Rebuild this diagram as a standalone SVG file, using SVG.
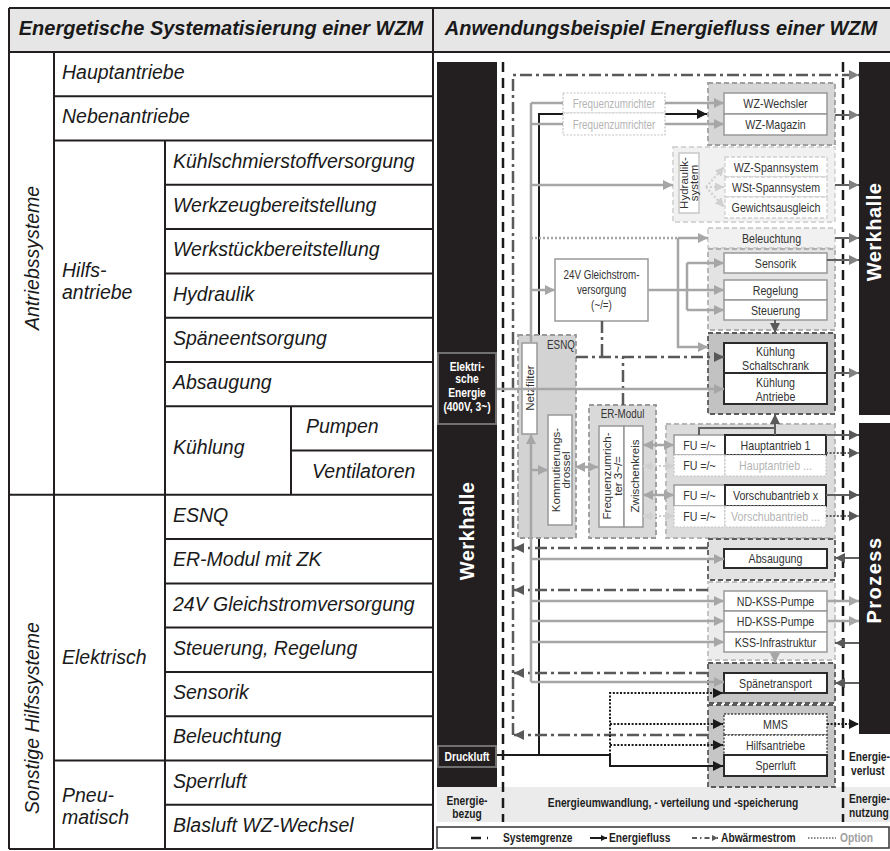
<svg xmlns="http://www.w3.org/2000/svg" width="890" height="851" viewBox="0 0 890 851">
<style>
.tb{stroke:#231f20;stroke-width:2;fill:none}
.it{font-family:"Liberation Sans",Arial,sans-serif;font-style:italic;font-size:19.5px;fill:#1a1a1a}
.hd{font-family:"Liberation Sans",Arial,sans-serif;font-style:italic;font-weight:bold;font-size:20px;fill:#1a1a1a;text-anchor:middle}
.n{font-family:"Liberation Sans",Arial,sans-serif;font-size:13px;fill:#333;text-anchor:middle}
.ns{font-size:12px}
.lt{fill:#b4b4b4}
.v{font-family:"Liberation Sans",Arial,sans-serif;font-size:11.5px;fill:#333;text-anchor:middle}
.bw{font-family:"Liberation Sans",Arial,sans-serif;font-weight:bold;font-size:12.5px;fill:#fff;text-anchor:middle}
.bd{font-family:"Liberation Sans",Arial,sans-serif;font-weight:bold;font-size:12.5px;fill:#1e1e1e}
.big{font-family:"Liberation Sans",Arial,sans-serif;font-weight:bold;font-size:20px;fill:#fff;text-anchor:middle}
.bar{fill:#231f20}
.box{fill:#fff;stroke:#999;stroke-width:1.5}
.boxd{fill:#fff;stroke:#2b2b2b;stroke-width:2}
.boxo{fill:#fff;stroke:#444;stroke-width:1.4;stroke-dasharray:2 1.5}
.boxol{fill:#fff;stroke:#c4c4c4;stroke-width:1.2;stroke-dasharray:2 1.5}
.boxh{fill:#fff;stroke:#d0d0d0;stroke-width:1.3;stroke-dasharray:4 2}
.grp{stroke-width:1.8;stroke-dasharray:5 3}
.g{fill:none;stroke:#a6a6a6;stroke-width:2.5}
.gd{fill:none;stroke:#a6a6a6;stroke-width:2.5;stroke-dasharray:2 2}
.gl{fill:none;stroke:#cfcfcf;stroke-width:2.2;stroke-dasharray:2 2}
.k{fill:none;stroke:#1a1a1a;stroke-width:2}
.ko{fill:none;stroke:#1a1a1a;stroke-width:2;stroke-dasharray:2 1.6}
.dd{fill:none;stroke:#595959;stroke-width:2.5;stroke-dasharray:12 4 3 4}
.sg{fill:none;stroke:#1a1a1a;stroke-width:2.5;stroke-dasharray:10 6}
.d{fill:none;stroke:#606060;stroke-width:2}
.do{fill:none;stroke:#606060;stroke-width:2;stroke-dasharray:2 1.6}
</style>
<defs>
<marker id="mG" viewBox="0 0 10 10" refX="10" refY="5" markerUnits="userSpaceOnUse" markerWidth="10" markerHeight="10" orient="auto-start-reverse"><path d="M0,0 L10,5 L0,10 z" fill="#a6a6a6"/></marker>
<marker id="mL" viewBox="0 0 10 10" refX="10" refY="5" markerUnits="userSpaceOnUse" markerWidth="9" markerHeight="9" orient="auto-start-reverse"><path d="M0,0 L10,5 L0,10 z" fill="#d0d0d0"/></marker>
<marker id="mK" viewBox="0 0 10 10" refX="10" refY="5" markerUnits="userSpaceOnUse" markerWidth="10" markerHeight="10" orient="auto-start-reverse"><path d="M0,0 L10,5 L0,10 z" fill="#1a1a1a"/></marker>
<marker id="mD" viewBox="0 0 10 10" refX="10" refY="5" markerUnits="userSpaceOnUse" markerWidth="10" markerHeight="11" orient="auto-start-reverse"><path d="M0,0 L10,5 L0,10 z" fill="#595959"/></marker>
<marker id="mM" viewBox="0 0 10 10" refX="10" refY="5" markerUnits="userSpaceOnUse" markerWidth="10" markerHeight="12" orient="auto-start-reverse"><path d="M0,0 L10,5 L0,10 z" fill="#808080"/></marker>
<marker id="mS" viewBox="0 0 10 10" refX="10" refY="5" markerUnits="userSpaceOnUse" markerWidth="7" markerHeight="6" orient="auto-start-reverse"><path d="M0,0 L10,5 L0,10 z" fill="#1a1a1a"/></marker>
<marker id="mSd" viewBox="0 0 10 10" refX="10" refY="5" markerUnits="userSpaceOnUse" markerWidth="7" markerHeight="6" orient="auto-start-reverse"><path d="M0,0 L10,5 L0,10 z" fill="#595959"/></marker>
</defs>
<rect width="890" height="851" fill="#fff"/>

<g id="header">
<rect x="9" y="8" width="881" height="44" fill="#e6e6e6"/>
<line x1="9" y1="8" x2="890" y2="8" class="tb"/>
<line x1="9" y1="52" x2="890" y2="52" class="tb" stroke-width="2.5"/>
<text x="221" y="35" class="hd">Energetische Systematisierung einer WZM</text>
<text x="661" y="35" class="hd">Anwendungsbeispiel Energiefluss einer WZM</text>
</g>

<g id="table">
<line x1="9" y1="8" x2="9" y2="849" class="tb"/>
<line x1="433" y1="8" x2="433" y2="849" class="tb"/>
<line x1="54" y1="52" x2="54" y2="849" class="tb"/>
<line x1="165" y1="140.6" x2="165" y2="849" class="tb"/>
<line x1="291" y1="406.2" x2="291" y2="494.8" class="tb"/>
<line x1="54" y1="96.3" x2="433" y2="96.3" class="tb"/>
<line x1="54" y1="140.6" x2="433" y2="140.6" class="tb"/>
<line x1="165" y1="184.8" x2="433" y2="184.8" class="tb"/>
<line x1="165" y1="229.1" x2="433" y2="229.1" class="tb"/>
<line x1="165" y1="273.4" x2="433" y2="273.4" class="tb"/>
<line x1="165" y1="317.7" x2="433" y2="317.7" class="tb"/>
<line x1="165" y1="362" x2="433" y2="362" class="tb"/>
<line x1="165" y1="406.2" x2="433" y2="406.2" class="tb"/>
<line x1="291" y1="450.5" x2="433" y2="450.5" class="tb"/>
<line x1="9" y1="494.8" x2="433" y2="494.8" class="tb"/>
<line x1="165" y1="539.1" x2="433" y2="539.1" class="tb"/>
<line x1="165" y1="583.4" x2="433" y2="583.4" class="tb"/>
<line x1="165" y1="627.6" x2="433" y2="627.6" class="tb"/>
<line x1="165" y1="671.9" x2="433" y2="671.9" class="tb"/>
<line x1="165" y1="716.2" x2="433" y2="716.2" class="tb"/>
<line x1="54" y1="760.5" x2="433" y2="760.5" class="tb"/>
<line x1="165" y1="804.8" x2="433" y2="804.8" class="tb"/>
<line x1="9" y1="849" x2="433" y2="849" class="tb"/>
<text class="it" transform="translate(39,258) rotate(-90)" text-anchor="middle">Antriebssysteme</text>
<text class="it" transform="translate(39,718) rotate(-90)" text-anchor="middle">Sonstige Hilfssysteme</text>
<text class="it" x="62" y="79">Hauptantriebe</text>
<text class="it" x="62" y="123.4">Nebenantriebe</text>
<text class="it" x="62" y="277">Hilfs-</text>
<text class="it" x="62" y="299">antriebe</text>
<text class="it" x="173" y="167.7">Kühlschmierstoffversorgung</text>
<text class="it" x="173" y="212">Werkzeugbereitstellung</text>
<text class="it" x="173" y="256.3">Werkstückbereitstellung</text>
<text class="it" x="173" y="300.5">Hydraulik</text>
<text class="it" x="173" y="344.8">Späneentsorgung</text>
<text class="it" x="173" y="389.1">Absaugung</text>
<text class="it" x="173" y="454">Kühlung</text>
<text class="it" x="306" y="433.4">Pumpen</text>
<text class="it" x="312" y="477.7">Ventilatoren</text>
<text class="it" x="62" y="664">Elektrisch</text>
<text class="it" x="173" y="522">ESNQ</text>
<text class="it" x="173" y="566.2">ER-Modul mit ZK</text>
<text class="it" x="173" y="610.5">24V Gleichstromversorgung</text>
<text class="it" x="173" y="654.8">Steuerung, Regelung</text>
<text class="it" x="173" y="699.1">Sensorik</text>
<text class="it" x="173" y="743.4">Beleuchtung</text>
<text class="it" x="62" y="802">Pneu-</text>
<text class="it" x="62" y="824">matisch</text>
<text class="it" x="173" y="787.6">Sperrluft</text>
<text class="it" x="173" y="831.9">Blasluft WZ-Wechsel</text>
</g>

<g id="bands">
<rect x="437" y="787" width="453" height="35" fill="#ebebeb"/>
<text class="bd" text-anchor="middle" transform="matrix(0.82 0 0 1 467 805)">Energie-</text>
<text class="bd" text-anchor="middle" transform="matrix(0.82 0 0 1 467 818)">bezug</text>
<text class="bd" text-anchor="middle" font-size="12px" transform="matrix(0.82 0 0 1 673 807)">Energieumwandlung, - verteilung und -speicherung</text>
<text class="bd" transform="matrix(0.82 0 0 1 849 761)">Energie-</text>
<text class="bd" transform="matrix(0.82 0 0 1 851 775)">verlust</text>
<text class="bd" transform="matrix(0.82 0 0 1 849 803)">Energie-</text>
<text class="bd" transform="matrix(0.82 0 0 1 849 817)">nutzung</text>
</g>

<g id="werkhalle-links">
<rect class="bar" x="437" y="62" width="60" height="725"/>
<text class="big" transform="translate(474,531) rotate(-90)" letter-spacing="0.5">Werkhalle</text>
</g>
<g id="elektrische-energie">
<rect x="438" y="353" width="58" height="71" fill="#231f20" stroke="#707070" stroke-width="2"/>
<text class="bw" transform="matrix(0.82 0 0 1 467 370.5)">Elektri-</text>
<text class="bw" transform="matrix(0.82 0 0 1 467 382.5)">sche</text>
<text class="bw" transform="matrix(0.82 0 0 1 467 396.5)">Energie</text>
<text class="bw" transform="matrix(0.82 0 0 1 467 410.5)">(400V, 3~)</text>
</g>
<g id="druckluft">
<rect x="438" y="746" width="58" height="21" fill="#231f20" stroke="#707070" stroke-width="2"/>
<text class="bw" transform="matrix(0.82 0 0 1 467 761)">Druckluft</text>
</g>
<g id="werkhalle-rechts">
<rect class="bar" x="859" y="62" width="31" height="353"/>
<text class="big" transform="translate(881,232) rotate(-90)" letter-spacing="0.5">Werkhalle</text>
</g>
<g id="prozess">
<rect class="bar" x="859" y="423" width="31" height="311"/>
<text class="big" transform="translate(881,580) rotate(-90)" letter-spacing="1.5">Prozess</text>
</g>

<g id="connectors-back">
<path class="k" d="M539,755 V538"/>
<path class="k" d="M539,335 V114 H707" marker-end="url(#mK)"/>
</g>

<g id="wz-gruppe">
<rect class="grp" x="708" y="83" width="127" height="62" fill="#d6d6d6" stroke="#a0a0a0"/>
<rect class="box" x="724" y="93" width="103" height="21"/>
<rect class="box" x="724" y="114" width="103" height="21"/>
<text class="n" transform="matrix(0.82 0 0 1 775.5 108)">WZ-Wechsler</text>
<text class="n" transform="matrix(0.82 0 0 1 775.5 129)">WZ-Magazin</text>
</g>
<g id="frequenzumrichter-opt">
<rect class="boxol" x="563" y="93" width="102" height="20"/>
<rect class="boxol" x="563" y="113" width="102" height="22"/>
<text class="n ns lt" transform="matrix(0.82 0 0 1 614 107.5)">Frequenzumrichter</text>
<text class="n ns lt" transform="matrix(0.82 0 0 1 614 128.5)">Frequenzumrichter</text>
</g>
<g id="hydraulik">
<rect class="grp" x="673" y="147" width="162" height="75" fill="#f1f1f1" stroke="#d6d6d6"/>
<rect x="679" y="153" width="20" height="60" fill="#fff" stroke="#c8c8c8" stroke-width="1.5"/>
<text class="v" font-size="10.5px" transform="translate(688,183) rotate(-90)">Hydraulik-</text>
<text class="v" font-size="10.5px" transform="translate(697.5,183) rotate(-90)">system</text>
<rect class="boxh" x="725" y="157" width="102" height="20"/>
<rect class="boxh" x="725" y="177" width="102" height="20"/>
<rect class="boxh" x="725" y="197" width="102" height="21"/>
<text class="n" transform="matrix(0.82 0 0 1 776 171.5)">WZ-Spannsystem</text>
<text class="n" transform="matrix(0.82 0 0 1 776 191.5)">WSt-Spannsystem</text>
<text class="n" transform="matrix(0.82 0 0 1 776 212)">Gewichtsausgleich</text>
</g>
<g id="beleuchtung">
<rect class="grp" x="708" y="228" width="127" height="20" fill="#f1f1f1" stroke="#d0d0d0"/>
<text class="n" transform="matrix(0.82 0 0 1 771.5 242.5)">Beleuchtung</text>
</g>
<g id="sensorik-gruppe">
<rect class="grp" x="708" y="249" width="127" height="81" fill="#e3e3e3" stroke="#b0b0b0"/>
<rect class="box" x="724" y="253" width="103" height="20" stroke="#b0b0b0"/>
<rect class="box" x="724" y="280" width="103" height="20" stroke="#b0b0b0"/>
<rect class="box" x="724" y="300" width="103" height="20" stroke="#b0b0b0"/>
<text class="n" transform="matrix(0.82 0 0 1 775.5 267.5)">Sensorik</text>
<text class="n" transform="matrix(0.82 0 0 1 775.5 294.5)">Regelung</text>
<text class="n" transform="matrix(0.82 0 0 1 775.5 314.5)">Steuerung</text>
</g>
<g id="gleichstrom-24v">
<rect class="box" x="555" y="259" width="93" height="62" stroke="#a6a6a6"/>
<text class="n ns" transform="matrix(0.82 0 0 1 601.5 279)">24V Gleichstrom-</text>
<text class="n ns" transform="matrix(0.82 0 0 1 601.5 294)">versorgung</text>
<text class="n ns" transform="matrix(0.82 0 0 1 601.5 308.5)">(~/=)</text>
</g>
<g id="kuehlung-gruppe">
<rect class="grp" x="708" y="333" width="127" height="81" fill="#c2c2c2" stroke="#5a5a5a"/>
<rect class="boxd" x="724" y="343" width="103" height="30" stroke-width="1.6"/>
<rect class="boxd" x="724" y="373" width="103" height="31" stroke-width="1.6"/>
<text class="n" transform="matrix(0.82 0 0 1 775.5 356)">Kühlung</text>
<text class="n" transform="matrix(0.82 0 0 1 775.5 370)">Schaltschrank</text>
<text class="n" transform="matrix(0.82 0 0 1 775.5 387)">Kühlung</text>
<text class="n" transform="matrix(0.82 0 0 1 775.5 401)">Antriebe</text>
</g>
<g id="esnq">
<rect class="grp" x="518" y="335" width="58" height="203" fill="#d3d3d3" stroke="#9a9a9a"/>
<text class="n ns" transform="matrix(0.82 0 0 1 561 349)">ESNQ</text>
<rect class="box" x="522" y="343" width="15" height="91" stroke="#a6a6a6"/>
<text class="v" font-size="12px" transform="translate(534,388) rotate(-90)">Netzfilter</text>
<rect class="box" x="548" y="415" width="24" height="110" stroke="#a6a6a6"/>
<text class="v" transform="translate(559.5,470) rotate(-90)">Kommutierungs-</text>
<text class="v" transform="translate(570,470) rotate(-90)">drossel</text>
</g>
<g id="er-modul">
<rect class="grp" x="589" y="405" width="67" height="133" fill="#d9d9d9" stroke="#9a9a9a"/>
<text class="n ns" transform="matrix(0.82 0 0 1 622.5 417.5)">ER-Modul</text>
<rect class="box" x="599" y="426" width="25" height="101" stroke="#a6a6a6"/>
<rect class="box" x="624" y="426" width="19" height="101" stroke="#a6a6a6"/>
<text class="v" transform="translate(611,476) rotate(-90)">Frequenzumrich-</text>
<text class="v" transform="translate(622,476) rotate(-90)">ter 3~/=</text>
<text class="v" font-size="12px" transform="translate(638.5,476) rotate(-90)">Zwischenkreis</text>
</g>
<g id="fu-gruppe">
<rect class="grp" x="666" y="424" width="169" height="114" fill="#dcdcdc" stroke="#b5b5b5"/>
<rect class="box" x="674" y="435" width="51" height="20" stroke="#a6a6a6"/>
<rect class="boxd" x="725" y="435" width="101" height="20"/>
<rect class="boxol" x="674" y="455" width="51" height="21"/>
<rect class="boxol" x="725" y="455" width="101" height="21"/>
<rect class="box" x="674" y="485" width="51" height="21" stroke="#a6a6a6"/>
<rect class="boxd" x="725" y="485" width="101" height="21"/>
<rect class="boxol" x="674" y="506" width="51" height="21"/>
<rect class="boxol" x="725" y="506" width="101" height="21"/>
<text class="n" transform="matrix(0.82 0 0 1 699.5 449.5)">FU =/~</text>
<text class="n" transform="matrix(0.82 0 0 1 775.5 449.5)">Hauptantrieb 1</text>
<text class="n" transform="matrix(0.82 0 0 1 699.5 470)">FU =/~</text>
<text class="n lt" transform="matrix(0.82 0 0 1 775.5 470)">Hauptantrieb ...</text>
<text class="n" transform="matrix(0.82 0 0 1 699.5 500)">FU =/~</text>
<text class="n" transform="matrix(0.82 0 0 1 775.5 500)">Vorschubantrieb x</text>
<text class="n" transform="matrix(0.82 0 0 1 699.5 521)">FU =/~</text>
<text class="n lt" transform="matrix(0.82 0 0 1 775.5 521)">Vorschubantrieb ...</text>
</g>
<g id="absaugung">
<rect class="grp" x="708" y="539" width="127" height="41" fill="#e2e2e2" stroke="#5a5a5a"/>
<rect class="boxd" x="724" y="549" width="103" height="19"/>
<text class="n" transform="matrix(0.82 0 0 1 775.5 563)">Absaugung</text>
</g>
<g id="kss-gruppe">
<rect class="grp" x="708" y="582" width="127" height="78" fill="#ececec" stroke="#c0c0c0"/>
<rect class="box" x="724" y="591" width="103" height="20" stroke="#b0b0b0"/>
<rect class="box" x="724" y="611" width="103" height="21" stroke="#b0b0b0"/>
<rect class="box" x="724" y="632" width="103" height="20" stroke="#b0b0b0"/>
<text class="n" transform="matrix(0.82 0 0 1 775.5 605.5)">ND-KSS-Pumpe</text>
<text class="n" transform="matrix(0.82 0 0 1 775.5 626)">HD-KSS-Pumpe</text>
<text class="n" transform="matrix(0.82 0 0 1 775.5 646.5)">KSS-Infrastruktur</text>
</g>
<g id="spaenetransport">
<rect class="grp" x="708" y="663" width="127" height="40" fill="#c6c6c6" stroke="#5a5a5a"/>
<rect class="boxd" x="724" y="673" width="103" height="20"/>
<text class="n" transform="matrix(0.82 0 0 1 775.5 687.5)">Spänetransport</text>
</g>
<g id="pneumatik-gruppe">
<rect class="grp" x="708" y="705" width="127" height="82" fill="#c6c6c6" stroke="#5a5a5a"/>
<rect class="boxo" x="724" y="714" width="103" height="21"/>
<rect class="boxo" x="724" y="735" width="103" height="20"/>
<rect class="boxd" x="724" y="755" width="103" height="21"/>
<text class="n" transform="matrix(0.82 0 0 1 775.5 729)">MMS</text>
<text class="n" transform="matrix(0.82 0 0 1 775.5 749.5)">Hilfsantriebe</text>
<text class="n" transform="matrix(0.82 0 0 1 775.5 770)">Sperrluft</text>
</g>

<g id="connectors">
<path class="sg" d="M503,62 V822"/>
<path class="sg" d="M843,62 V822"/>
<path class="dd" d="M513,735 V75 H859" marker-end="url(#mM)"/>
<path class="dd" d="M708,548 H514" marker-end="url(#mD)"/>
<path class="dd" d="M708,590 H514" marker-end="url(#mD)"/>
<path class="dd" d="M708,673 H514" marker-end="url(#mD)"/>
<path class="dd" d="M708,735 H514" marker-end="url(#mD)"/>
<path class="dd" d="M602,321 V357"/>
<path class="dd" d="M623,405 V357"/>
<path class="dd" d="M576,357 H724" marker-end="url(#mD)"/>
<path class="d" d="M835,115 H859" marker-end="url(#mM)"/>
<path class="d" d="M835,185 H859" marker-end="url(#mM)"/>
<path class="d" d="M835,238 H859" marker-end="url(#mM)"/>
<path class="d" d="M827,260 H859" marker-end="url(#mM)"/>
<path class="d" d="M835,373 H859" marker-end="url(#mM)"/>
<path class="d" d="M775,320 V333" marker-end="url(#mD)"/>
<path class="d" d="M699,435 V428 H775"/>
<path class="d" d="M775,435 V414" marker-end="url(#mD)"/>
<path class="d" d="M826,435 H859" marker-end="url(#mD)"/>
<path class="do" d="M826,453 H859" marker-end="url(#mD)"/>
<path class="d" d="M826,495 H859" marker-end="url(#mD)"/>
<path class="do" d="M826,516 H859" marker-end="url(#mD)"/>
<path class="d" d="M859,558 H835" marker-end="url(#mD)"/>
<path class="d" d="M859,643 H835" marker-end="url(#mD)"/>
<path class="d" d="M859,683 H835" marker-end="url(#mD)"/>
<path class="g" d="M827,601 H859" marker-end="url(#mG)"/>
<path class="g" d="M827,621 H859" marker-end="url(#mG)"/>
<path class="g" d="M531,103 V343"/>
<path class="g" d="M531,682 V434" marker-end="url(#mG)"/>
<path class="g" d="M531,103 H563"/>
<path class="g" d="M531,124 H563"/>
<path class="g" d="M665,103 H724" marker-end="url(#mG)"/>
<path class="g" d="M665,124 H724" marker-end="url(#mG)"/>
<path class="g" d="M531,185 H673" marker-end="url(#mG)"/>
<path class="gd" d="M531,238 H678"/>
<path class="g" d="M678,238 H708" marker-end="url(#mG)"/>
<path class="g" d="M678,238 V347 H708" marker-end="url(#mG)"/>
<path class="g" d="M531,290 H555" marker-end="url(#mG)"/>
<path class="g" d="M648,290 H724" marker-end="url(#mG)"/>
<path class="g" d="M687,263 V310"/>
<path class="g" d="M687,263 H724" marker-end="url(#mG)"/>
<path class="g" d="M687,310 H724" marker-end="url(#mG)"/>
<path class="g" d="M497,389 H724" marker-end="url(#mG)"/>
<path class="g" d="M531,470 H548" marker-end="url(#mG)"/>
<path class="g" d="M575,467 H598" marker-start="url(#mG)" marker-end="url(#mG)"/>
<path class="g" d="M643,445 H674" marker-start="url(#mG)" marker-end="url(#mG)"/>
<path class="gl" d="M643,466 H674" marker-start="url(#mL)" marker-end="url(#mL)"/>
<path class="g" d="M643,495 H674" marker-start="url(#mG)" marker-end="url(#mG)"/>
<path class="gl" d="M643,516 H674" marker-start="url(#mL)" marker-end="url(#mL)"/>
<path class="g" d="M531,559 H724" marker-end="url(#mG)"/>
<path class="g" d="M531,601 H724" marker-end="url(#mG)"/>
<path class="g" d="M531,621 H724" marker-end="url(#mG)"/>
<path class="g" d="M531,642 H724" marker-end="url(#mG)"/>
<path class="g" d="M531,682 H724" marker-end="url(#mG)"/>
<path class="g" d="M775,652 V663" marker-end="url(#mG)"/>
<path class="gl" d="M706,187 L724,167" marker-end="url(#mL)"/>
<path class="gl" d="M706,187 H724" marker-end="url(#mL)"/>
<path class="gl" d="M706,187 L724,207" marker-end="url(#mL)"/>
<path class="k" d="M497,755 H610 V766 H723" marker-end="url(#mK)"/>
<path class="ko" d="M610,755 V693 H723" marker-end="url(#mK)"/>
<path class="ko" d="M610,724 H723" marker-end="url(#mK)"/>
<path class="ko" d="M610,745 H723" marker-end="url(#mK)"/>
<path class="ko" d="M827,724 H859" marker-end="url(#mK)"/>
</g>

<g id="legende">
<rect x="437" y="827" width="452" height="21" fill="#fff" stroke="#333" stroke-width="1.5"/>
<path class="sg" d="M471,838 H488" stroke-dasharray="6 4"/>
<text class="bd" transform="matrix(0.82 0 0 1 503 842)">Systemgrenze</text>
<path class="k" d="M590,838 H607" marker-end="url(#mS)"/>
<text class="bd" transform="matrix(0.82 0 0 1 609 842)">Energiefluss</text>
<path fill="none" stroke="#595959" stroke-width="1.8" stroke-dasharray="5 3 1.5 3" d="M692,838 H718" marker-end="url(#mSd)"/>
<text class="bd" transform="matrix(0.82 0 0 1 721 842)">Abwärmestrom</text>
<path fill="none" stroke="#666" stroke-width="1.5" stroke-dasharray="1.5 1.5" d="M808,838 H836"/>
<text class="bd" style="fill:#a0a0a0" transform="matrix(0.82 0 0 1 840 842)">Option</text>
</g>
</svg>
